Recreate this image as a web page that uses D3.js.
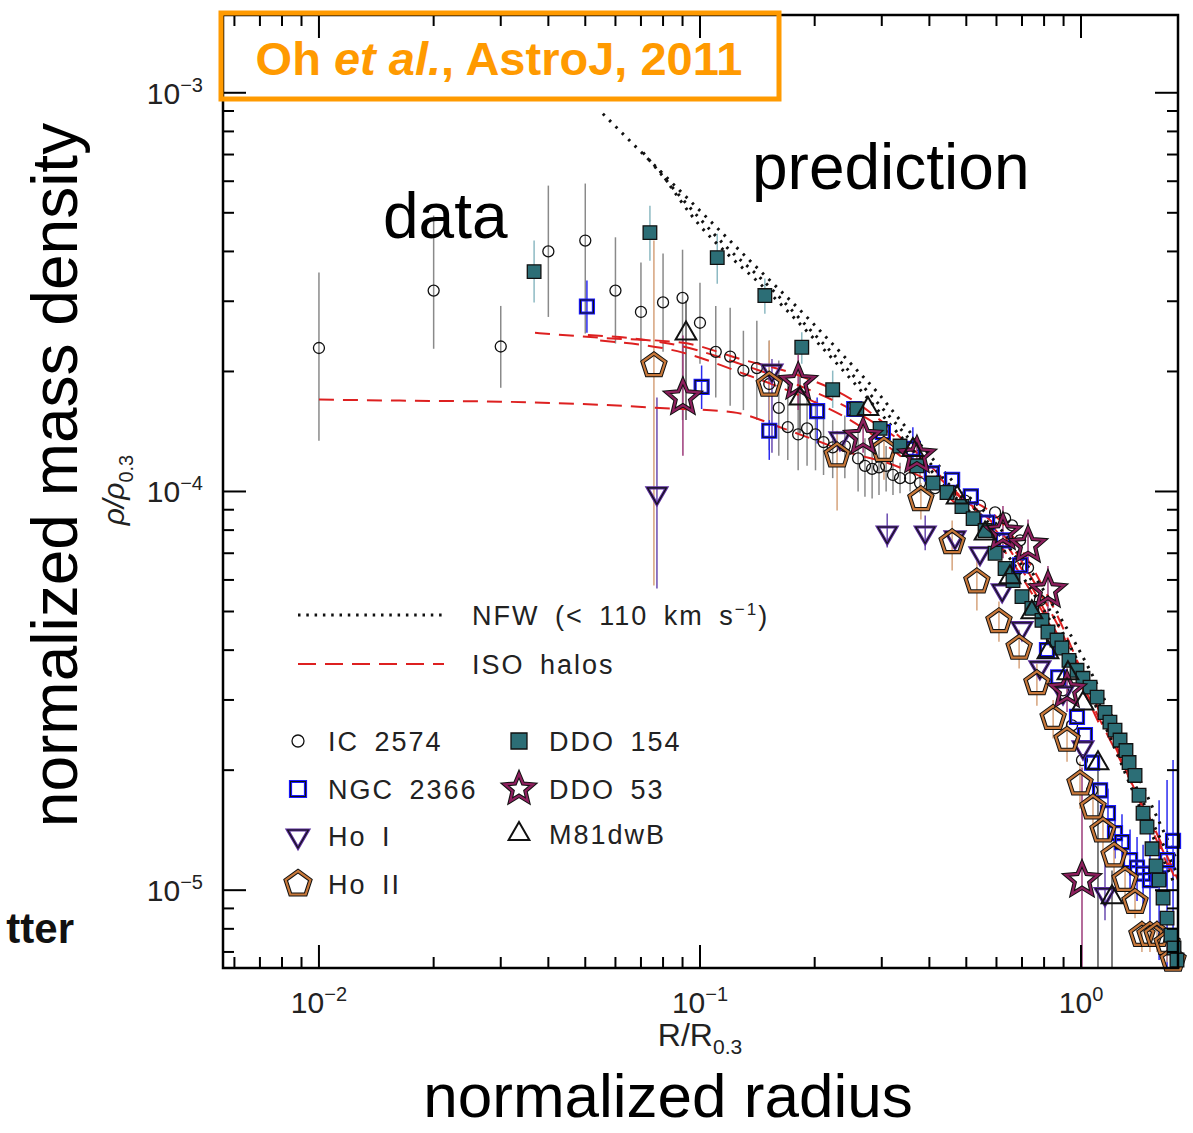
<!DOCTYPE html>
<html>
<head>
<meta charset="UTF-8">
<title>Normalized density profiles</title>
<script src="https://d3js.org/d3.v7.min.js"></script>
<style>
  body { margin: 0; background: #fff; }
  svg text { font-family: "Liberation Sans", Arial, sans-serif; }
</style>
</head>
<body>
<div id="chart"></div>
<script>
// ---- tick labels ----
const xTickVals = [0.01, 0.1, 1];
const xTickExp = ["\u22122", "\u22121", "0"];
const yTickVals = [1e-3, 1e-4, 1e-5];
const yTickExp = ["\u22123", "\u22124", "\u22125"];

// ---- IC 2574 ----
const ic2574R = [0.010,0.020,0.030,0.040,0.050,0.060,0.070,0.080,0.090,0.100,0.110,0.120,0.130,0.141,0.152,0.161,0.170,0.181,0.191,0.201,0.211,0.223,0.240,0.260,0.271,0.283,0.295,0.308,0.321,0.335,0.356,0.378,0.414,0.453,0.496,0.543,0.595,0.632,0.659,0.692,0.726,0.780,0.839,0.897,0.947,1.006,1.069];
const ic2574Rho = [2.29e-4,3.19e-4,2.31e-4,4.0e-4,4.26e-4,3.19e-4,2.82e-4,2.98e-4,3.06e-4,2.65e-4,2.24e-4,2.18e-4,2.01e-4,2.04e-4,1.86e-4,1.62e-4,1.45e-4,1.39e-4,1.44e-4,1.39e-4,1.33e-4,1.29e-4,1.30e-4,1.21e-4,1.16e-4,1.14e-4,1.15e-4,1.16e-4,1.10e-4,1.08e-4,1.08e-4,1.05e-4,1.02e-4,9.89e-5,9.49e-5,9.22e-5,8.86e-5,8.56e-5,8.22e-5,7.54e-5,6.44e-5,5.33e-5,4.24e-5,3.17e-5,2.59e-5,2.12e-5,1.78e-5];
const ic2574Hi = [3.54e-4,4.92e-4,2.92e-4,5.85e-4,5.92e-4,4.34e-4,3.75e-4,3.95e-4,4.04e-4,3.34e-4,2.92e-4,2.89e-4,2.53e-4,2.68e-4,2.39e-4,2.13e-4,1.90e-4,1.75e-4,1.79e-4,1.69e-4,1.60e-4,1.51e-4,1.55e-4,1.42e-4,1.36e-4,1.33e-4,1.32e-4,1.30e-4,1.22e-4,1.18e-4,1.16e-4,1.12e-4];
const ic2574Lo = [1.34e-4,2.28e-4,1.82e-4,2.74e-4,2.49e-4,2.35e-4,2.13e-4,2.24e-4,1.51e-4,2.09e-4,1.72e-4,1.64e-4,1.60e-4,1.51e-4,1.27e-4,1.23e-4,1.20e-4,1.13e-4,1.16e-4,1.13e-4,1.10e-4,1.08e-4,1.08e-4,1.00e-4,9.7e-5,9.6e-5,9.8e-5,1.0e-4,9.8e-5,9.9e-5,1.0e-4,9.9e-5];

// ---- NGC 2366 ----
const ngc2366R = [0.0505,0.101,0.152,0.203,0.254,0.302,0.362,0.406,0.459,0.514,0.567,0.624,0.692,0.814,0.871,0.976,1.024,1.069,1.122,1.177,1.228,1.281,1.345,1.403,1.455,1.517,1.603,1.682,1.744];
const ngc2366Rho = [2.91e-4,1.83e-4,1.42e-4,1.59e-4,1.61e-4,1.41e-4,1.28e-4,1.11e-4,1.07e-4,9.72e-5,8.36e-5,7.54e-5,6.53e-5,4.00e-5,3.42e-5,2.72e-5,2.45e-5,2.09e-5,1.78e-5,1.56e-5,1.39e-5,1.32e-5,1.19e-5,1.14e-5,1.10e-5,1.06e-5,1.07e-5,1.19e-5,1.33e-5];
const ngc2366Hi = [3.38e-4,2.07e-4,1.90e-4,1.72e-4,null,null,1.45e-4,null,null,null,null,null,null,null,null,null,null,null,null,1.8e-5,1.62e-5,1.55e-5,1.42e-5,1.36e-5,1.30e-5,1.41e-5,1.68e-5,1.89e-5,2.12e-5];
const ngc2366Lo = [2.50e-4,1.61e-4,1.20e-4,1.32e-4,null,null,1.12e-4,null,null,null,null,null,null,null,null,null,null,null,null,1.35e-5,1.2e-5,1.12e-5,1.0e-5,9.4e-6,9.2e-6,7.94e-6,6.68e-6,6.38e-6,6.38e-6];

// ---- Ho I ----
const hoIR = [0.0771,0.1545,0.233,0.310,0.390,0.467,0.543,0.621,0.700,0.780,0.897,1.012,1.156];
const hoIRho = [9.89e-5,2.01e-4,1.36e-4,7.89e-5,7.89e-5,7.67e-5,7.0e-5,5.65e-5,4.54e-5,3.62e-5,3.13e-5,2.28e-5,9.77e-6];
const hoIHi = [1.72e-4,2.15e-4,null,8.81e-5,8.71e-5,null,null,null,null,null,null,null,1.19e-5];
const hoILo = [5.71e-5,1.25e-4,null,7.24e-5,7.12e-5,null,null,null,null,null,null,null,8.41e-6];

// ---- Ho II ----
const hoIIR = [0.0757,0.152,0.229,0.304,0.380,0.459,0.533,0.609,0.688,0.766,0.845,0.919,0.994,1.075,1.142,1.221,1.305,1.386,1.445,1.517,1.583,1.682,1.744];
const hoIIRho = [2.07e-4,1.85e-4,1.23e-4,1.27e-4,9.55e-5,7.45e-5,5.94e-5,4.72e-5,4.05e-5,3.30e-5,2.70e-5,2.38e-5,1.85e-5,1.61e-5,1.41e-5,1.22e-5,1.06e-5,9.33e-6,7.71e-6,7.71e-6,7.71e-6,7.36e-6,6.68e-6];
const hoIIHi = [4.26e-4,2.39e-4,1.42e-4,1.42e-4,1.05e-4,8.46e-5,6.72e-5,5.3e-5,4.5e-5,3.7e-5,3.0e-5,2.65e-5,2.1e-5,1.8e-5,1.55e-5,1.35e-5,1.15e-5,1.0e-5,8.4e-6,8.4e-6,8.4e-6,8.0e-6,7.2e-6];
const hoIILo = [5.81e-5,1.51e-4,8.96e-5,1.07e-4,8.5e-5,6.34e-5,5.03e-5,4.2e-5,3.6e-5,2.9e-5,2.4e-5,2.1e-5,1.6e-5,1.4e-5,1.25e-5,1.1e-5,9.6e-6,8.5e-6,7.0e-6,7.0e-6,7.0e-6,6.6e-6,6.4e-6];

// ---- DDO 154 ----
const ddo154R = [0.0367,0.0739,0.111,0.148,0.185,0.223,0.258,0.297,0.335,0.371,0.409,0.445,0.487,0.521,0.560,0.595,0.632,0.663,0.700,0.743,0.790,0.819,0.865,0.891,0.930,0.976,1.012,1.056,1.102,1.156,1.191,1.228,1.266,1.312,1.337,1.386,1.420,1.455,1.490,1.536,1.574,1.603,1.642,1.682,1.722,1.754,1.786];
const ddo154Rho = [3.56e-4,4.46e-4,3.86e-4,3.10e-4,2.30e-4,1.80e-4,1.61e-4,1.44e-4,1.30e-4,1.16e-4,1.05e-4,9.94e-5,9.17e-5,8.55e-5,7.98e-5,7.0e-5,6.41e-5,5.98e-5,5.45e-5,5.09e-5,4.75e-5,4.44e-5,4.24e-5,4.05e-5,3.77e-5,3.56e-5,3.40e-5,3.23e-5,3.05e-5,2.79e-5,2.64e-5,2.52e-5,2.38e-5,2.24e-5,2.09e-5,1.94e-5,1.73e-5,1.56e-5,1.44e-5,1.27e-5,1.15e-5,1.06e-5,9.55e-6,8.51e-6,7.71e-6,7.16e-6,6.68e-6];
const ddo154Hi = [4.26e-4,5.21e-4,4.43e-4,3.42e-4,2.51e-4,2.01e-4];
const ddo154Lo = [2.98e-4,3.79e-4,3.32e-4,2.79e-4,2.09e-4,1.62e-4];

// ---- DDO 53 ----
const ddo53R = [0.0902,0.181,0.268,0.371,0.624,0.726,0.819,0.919,1.006];
const ddo53Rho = [1.72e-4,1.88e-4,1.37e-4,1.23e-4,7.89e-5,7.33e-5,5.65e-5,3.17e-5,1.06e-5];
const ddo53Hi = [2.46e-4,2.2e-4,1.5e-4,1.35e-4,9.2e-5,8.5e-5,6.5e-5,3.6e-5,2.03e-5];
const ddo53Lo = [1.23e-4,1.6e-4,1.25e-4,1.12e-4,6.8e-5,6.3e-5,4.9e-5,2.8e-5,6.4e-6];

// ---- M81dwB ----
const m81R = [0.0919,0.183,0.276,0.362,0.473,0.560,0.651,0.743,0.819,0.924,1.012,1.108,1.206];
const m81Rho = [2.49e-4,1.71e-4,1.61e-4,1.27e-4,9.66e-5,7.85e-5,6.09e-5,4.98e-5,3.95e-5,3.50e-5,2.94e-5,2.08e-5,9.60e-6];
const m81Hi = [3.01e-4,2.05e-4,null,null,null,null,null,null,null,null,null,null,1.12e-5];
const m81Lo = [1.51e-4,1.40e-4,null,null,null,null,null,null,null,null,null,6.4e-6,6.4e-6];

// ---- NFW model curves ----
const nfw1R = [0.0556,0.0739,0.100,0.1353,0.198,0.248,0.297,0.335,0.453,0.613,0.829,1.122,1.428,1.797];
const nfw1Rho = [8.86e-4,6.75e-4,5.06e-4,3.79e-4,2.64e-4,2.10e-4,1.74e-4,1.51e-4,1.08e-4,8.08e-5,5.33e-5,3.17e-5,1.89e-5,1.175e-5];
const nfw2R = [0.0709,0.100,0.1178,0.1437,0.198,0.248,0.335,0.453,0.613,0.829,1.122,1.428,1.797];
const nfw2Rho = [7.08e-4,4.83e-4,4.09e-4,3.44e-4,2.50e-4,1.99e-4,1.44e-4,1.035e-4,7.75e-5,5.03e-5,2.90e-5,1.73e-5,1.09e-5];
const nfw3R = [0.0785,0.100,0.1178,0.1437,0.198,0.248,0.335,0.453,0.613,0.829,1.122,1.428,1.765];
const nfw3Rho = [6.37e-4,4.64e-4,3.95e-4,3.32e-4,2.43e-4,1.92e-4,1.38e-4,1.0e-4,7.33e-5,4.75e-5,2.75e-5,1.61e-5,1.03e-5];

// ---- ISO halo curves ----
const iso1R = [0.0100,0.0163,0.0299,0.0547,0.0785,0.122,0.1652,0.203,0.248,0.310,0.349,0.453,0.613,0.829,1.056,1.345,1.712];
const iso1Rho = [1.70e-4,1.69e-4,1.68e-4,1.65e-4,1.62e-4,1.58e-4,1.44e-4,1.34e-4,1.25e-4,1.18e-4,1.13e-4,1.0e-4,8.46e-5,5.33e-5,3.17e-5,1.89e-5,1.12e-5];
const iso2R = [0.0369,0.0547,0.0902,0.1274,0.183,0.248,0.297,0.378,0.481,0.613,0.829,1.056,1.345,1.797];
const iso2Rho = [2.50e-4,2.43e-4,2.36e-4,2.15e-4,1.95e-4,1.71e-4,1.51e-4,1.23e-4,9.77e-5,7.98e-5,5.03e-5,3.17e-5,1.94e-5,1.06e-5];
const iso3R = [0.0508,0.0902,0.1274,0.183,0.248,0.335,0.453,0.613,0.829,1.122,1.428,1.797];
const iso3Rho = [2.47e-4,2.31e-4,2.09e-4,1.84e-4,1.61e-4,1.34e-4,1.02e-4,7.75e-5,4.75e-5,2.67e-5,1.68e-5,1.03e-5];
const iso4R = [0.0547,0.0902,0.1274,0.183,0.248,0.335,0.453,0.613,0.829,1.122];
const iso4Rho = [2.39e-4,2.23e-4,1.99e-4,1.74e-4,1.51e-4,1.23e-4,9.60e-5,7.33e-5,4.62e-5,2.59e-5];

// ---- layout ----
const width = 1193, height = 1133;
const plot = { left: 223, right: 1178, top: 15, bottom: 968 };

const svg = d3.select("#chart").append("svg")
  .attr("width", width).attr("height", height);

const x = d3.scaleLog().domain([0.0056, 1.797]).range([plot.left, plot.right]);
const y = d3.scaleLog().domain([6.38e-6, 1.567e-3]).range([plot.bottom, plot.top]);

// polygon / star path around 0,0
function poly(n, r, rot, inner) {
  const m = inner ? 2 * n : n;
  const pts = [];
  for (let i = 0; i < m; i++) {
    const a = rot + i * Math.PI * 2 / m;
    const rr = inner && i % 2 ? inner : r;
    pts.push([rr * Math.sin(a), -rr * Math.cos(a)]);
  }
  return "M" + pts.map(p => p[0].toFixed(2) + "," + p[1].toFixed(2)).join("L") + "Z";
}
const shapes = {
  circle: s => d3.symbol(d3.symbolCircle, Math.PI * s * s)(),
  square: s => `M${-s},${-s}H${s}V${s}H${-s}Z`,
  triDown: s => poly(3, s, Math.PI),
  triUp: s => poly(3, s, 0),
  pentagon: s => poly(5, s, 0),
  star: s => poly(5, s, 0, s * 0.45)
};

const series = [
  { name: "IC 2574", r: ic2574R, rho: ic2574Rho, hi: ic2574Hi, lo: ic2574Lo,
    shape: "circle", size: 5.5, legSize: 6, fill: "none", color: "#111", w: 1.3, bar: "#8a8a8a" },
  { name: "NGC 2366", r: ngc2366R, rho: ngc2366Rho, hi: ngc2366Hi, lo: ngc2366Lo,
    shape: "square", size: 6.5, legSize: 7.5, fill: "none", color: "#1a1aff", w: 3.2, inner: "#111", bar: "#2b2bf0" },
  { name: "Ho I", r: hoIR, rho: hoIRho, hi: hoIHi, lo: hoILo,
    shape: "triDown", size: 11, legSize: 12, fill: "none", color: "#5a2d9c", w: 3.2, inner: "#111", bar: "#6a4bb0" },
  { name: "Ho II", r: hoIIR, rho: hoIIRho, hi: hoIIHi, lo: hoIILo,
    shape: "pentagon", size: 12, legSize: 13, fill: "none", color: "#c8783a", w: 2.2, outline: "#111", bar: "#d6a37c" },
  { name: "DDO 154", r: ddo154R, rho: ddo154Rho, hi: ddo154Hi, lo: ddo154Lo,
    shape: "square", size: 6.8, legSize: 8, fill: "#2c6e76", color: "#111", w: 1.3, bar: "#8dbac3" },
  { name: "DDO 53", r: ddo53R, rho: ddo53Rho, hi: ddo53Hi, lo: ddo53Lo,
    shape: "star", size: 17, legSize: 15, fill: "none", color: "#8e1f5e", w: 2.2, outline: "#111", bar: "#9c3b7a" },
  { name: "M81dwB", r: m81R, rho: m81Rho, hi: m81Hi, lo: m81Lo,
    shape: "triUp", size: 12, legSize: 12, fill: "none", color: "#111", w: 2, bar: "#555" }
];

// ---- error bars ----
series.forEach(s => {
  const bars = s.r.map((r, i) => ({ r, top: s.hi[i] ?? s.rho[i], bot: s.lo[i] ?? s.rho[i], has: s.hi[i] != null || s.lo[i] != null }))
    .filter(d => d.has);
  svg.append("g").selectAll("line").data(bars).join("line")
    .attr("x1", d => x(d.r)).attr("x2", d => x(d.r))
    .attr("y1", d => y(d.top)).attr("y2", d => y(d.bot))
    .attr("stroke", s.bar).attr("stroke-width", 1.5);
});

// ---- model curves ----
const line = d3.line().x(d => x(d[0])).y(d => y(d[1])).curve(d3.curveMonotoneX);
const zip = (a, b) => a.map((v, i) => [v, b[i]]);

[[iso1R, iso1Rho], [iso2R, iso2Rho], [iso3R, iso3Rho], [iso4R, iso4Rho]].forEach(([r, rho]) => {
  svg.append("path").attr("d", line(zip(r, rho)))
    .attr("fill", "none").attr("stroke", "#dd2020").attr("stroke-width", 2)
    .attr("stroke-dasharray", "15,9");
});
[[nfw1R, nfw1Rho], [nfw2R, nfw2Rho], [nfw3R, nfw3Rho]].forEach(([r, rho]) => {
  svg.append("path").attr("d", line(zip(r, rho)))
    .attr("fill", "none").attr("stroke", "#111").attr("stroke-width", 3)
    .attr("stroke-dasharray", "2.5,6.5");
});

// ---- markers ----
function drawMarker(g, s, size) {
  const d = shapes[s.shape](size);
  if (s.outline) g.append("path").attr("d", d).attr("fill", "none").attr("stroke", s.outline).attr("stroke-width", s.w + 2).attr("stroke-linejoin", "miter");
  g.append("path").attr("d", d).attr("fill", s.fill).attr("stroke", s.color).attr("stroke-width", s.w);
  if (s.inner) g.append("path").attr("d", d).attr("fill", "none").attr("stroke", s.inner).attr("stroke-width", 1.1);
}
series.forEach(s => {
  const g = svg.append("g");
  s.r.forEach((r, i) => {
    drawMarker(g.append("g").attr("transform", `translate(${x(r)},${y(s.rho[i])})`), s, s.size);
  });
});

// ---- frame and ticks ----
svg.append("rect").attr("x", plot.left).attr("y", plot.top)
  .attr("width", plot.right - plot.left).attr("height", plot.bottom - plot.top)
  .attr("fill", "none").attr("stroke", "#000").attr("stroke-width", 2.5);

const isMajor = v => Math.abs(Math.log10(v) - Math.round(Math.log10(v))) < 1e-6;
const tickG = svg.append("g").attr("stroke", "#000").attr("stroke-width", 2);
x.ticks().forEach(v => {
  const len = isMajor(v) ? 23 : 11, px = x(v);
  tickG.append("line").attr("x1", px).attr("x2", px).attr("y1", plot.bottom).attr("y2", plot.bottom - len);
  tickG.append("line").attr("x1", px).attr("x2", px).attr("y1", plot.top).attr("y2", plot.top + len);
});
y.ticks().forEach(v => {
  const len = isMajor(v) ? 23 : 11, py = y(v);
  tickG.append("line").attr("y1", py).attr("y2", py).attr("x1", plot.left).attr("x2", plot.left + len);
  tickG.append("line").attr("y1", py).attr("y2", py).attr("x1", plot.right).attr("x2", plot.right - len);
});

// tick labels
xTickVals.forEach((v, i) => {
  const t = svg.append("text").attr("x", x(v)).attr("y", 1013).attr("text-anchor", "middle")
    .attr("font-size", 30).attr("fill", "#222");
  t.append("tspan").text("10");
  t.append("tspan").attr("dy", -12).attr("font-size", 20).text(xTickExp[i]);
});
yTickVals.forEach((v, i) => {
  const t = svg.append("text").attr("x", 203).attr("y", y(v) + 11).attr("text-anchor", "end")
    .attr("font-size", 30).attr("fill", "#222");
  t.append("tspan").text("10");
  t.append("tspan").attr("dy", -12).attr("font-size", 20).text(yTickExp[i]);
});

// axis labels
const xl = svg.append("text").attr("x", 700).attr("y", 1046).attr("text-anchor", "middle")
  .attr("font-size", 32).attr("fill", "#222");
xl.append("tspan").text("R/R");
xl.append("tspan").attr("dy", 8).attr("font-size", 21).text("0.3");

const yl = svg.append("text").attr("transform", "translate(124,490) rotate(-90)")
  .attr("text-anchor", "middle").attr("font-size", 30).attr("fill", "#222");
yl.append("tspan").attr("font-style", "italic").text("\u03c1/\u03c1");
yl.append("tspan").attr("dy", 9).attr("font-size", 20).text("0.3");

svg.append("text").attr("transform", "translate(77,475) rotate(-90)").attr("text-anchor", "middle")
  .attr("font-size", 64).attr("fill", "#000").text("normalized mass density");
svg.append("text").attr("x", 668).attr("y", 1117).attr("text-anchor", "middle")
  .attr("font-size", 62).attr("fill", "#000").text("normalized radius");

// annotations
svg.append("text").attr("x", 383).attr("y", 238).attr("font-size", 64).text("data");
svg.append("text").attr("x", 752).attr("y", 189).attr("font-size", 64).text("prediction");
svg.append("text").attr("x", 74).attr("y", 943).attr("text-anchor", "end")
  .attr("font-family", "Liberation Serif, serif").attr("font-weight", "bold")
  .attr("font-size", 42).attr("fill", "#111").text("tter");

// citation box
svg.append("rect").attr("x", 221).attr("y", 13).attr("width", 558).attr("height", 86)
  .attr("fill", "none").attr("stroke", "#ff9a00").attr("stroke-width", 5);
const cite = svg.append("text").attr("x", 499).attr("y", 75).attr("text-anchor", "middle")
  .attr("font-size", 47).attr("font-weight", "bold").attr("fill", "#ff9a00");
cite.append("tspan").text("Oh ");
cite.append("tspan").attr("font-style", "italic").text("et al.");
cite.append("tspan").text(", AstroJ, 2011");

// ---- legend ----
const leg = svg.append("g").attr("font-size", 27).attr("fill", "#222")
  .attr("letter-spacing", 2).attr("word-spacing", 6);
leg.append("line").attr("x1", 298).attr("x2", 442).attr("y1", 615).attr("y2", 615)
  .attr("stroke", "#111").attr("stroke-width", 3).attr("stroke-dasharray", "2.5,5.8");
const nfwT = leg.append("text").attr("x", 472).attr("y", 625);
nfwT.append("tspan").text("NFW (< 110 km s");
nfwT.append("tspan").attr("dy", -10).attr("font-size", 17).text("\u22121");
nfwT.append("tspan").attr("dy", 10).text(")");
leg.append("line").attr("x1", 298).attr("x2", 444).attr("y1", 664).attr("y2", 664)
  .attr("stroke", "#dd2020").attr("stroke-width", 2).attr("stroke-dasharray", "18,9");
leg.append("text").attr("x", 472).attr("y", 674).text("ISO halos");

const legPos = [[298, 741], [298, 789], [298, 836], [298, 884], [519, 741], [519, 789], [519, 834]];
series.forEach((s, i) => {
  const [lx, ly] = legPos[i];
  drawMarker(leg.append("g").attr("transform", `translate(${lx},${ly})`), s, s.legSize);
  leg.append("text").attr("x", lx + 30).attr("y", ly + 10).text(s.name);
});
</script>
</body>
</html>
